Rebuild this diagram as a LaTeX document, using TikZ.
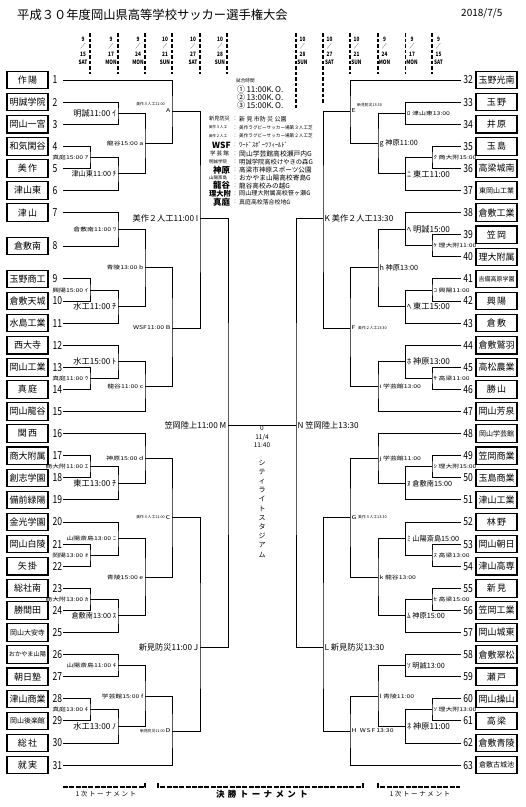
\documentclass[tikz,border=0pt]{standalone}
\usepackage{fontspec}
\setmainfont{Noto Sans CJK JP}
\newfontfamily\cnd[FakeStretch=0.78]{Noto Sans CJK JP}
\newfontfamily\wid[FakeStretch=1.3]{Noto Sans CJK JP}
\newfontfamily\spc[LetterSpace=25]{Noto Sans CJK JP}
\newfontfamily\spcb[LetterSpace=40]{Noto Sans CJK JP}
\begin{document}
\begin{tikzpicture}[x=1pt,y=-1pt,
  br/.style={line width=1pt},
  tbox/.style={draw,line width=1.1pt,minimum width=41pt,minimum height=17.5pt,inner sep=0pt},
  numl/.style={anchor=west,inner sep=0pt,font=\cnd\fontsize{11}{11}\selectfont},
  numr/.style={anchor=east,inner sep=0pt,font=\cnd\fontsize{11}{11}\selectfont},
  lb/.style={inner sep=0pt,font=\fontsize{8.2}{8.2}\selectfont},
  lm/.style={inner sep=0pt,font=\fontsize{7.2}{7.2}\selectfont},
  ls/.style={inner sep=0pt,font=\wid\fontsize{5.3}{5.3}\selectfont},
  lt/.style={inner sep=0pt,font=\fontsize{3.8}{3.8}\selectfont},
  datel/.style={inner sep=0pt,align=center,font=\cnd\bfseries\fontsize{6}{7.7}\selectfont},
  dline/.style={line width=1.6pt,dash pattern=on 3.5pt off 2pt},
  bline/.style={line width=1.5pt,dash pattern=on 5pt off 1.3pt},
  info/.style={inner sep=0pt,anchor=west},
  vleft/.style={inner sep=0pt},
  ]
\path[use as bounding box,fill=white] (0,0) rectangle (526,807);

% title
\node[inner sep=0pt,anchor=west,font=\fontsize{12.3}{12.3}\selectfont] (title) at (17,14.5) {平成３０年度岡山県高等学校サッカー選手権大会};
\node[inner sep=0pt,anchor=west,font=\fontsize{10}{10}\selectfont] (date) at (461,13) {2018/7/5};

% date columns
\foreach \x/\m/\d/\w/\e [count=\k] in {90/9/15/SAT/74,118/9/17/MON/74,145/9/24/MON/74,172/10/21/SUN/74,200/10/27/SAT/74,227/10/28/SUN/74}{
  \draw[dline] (\x,33) -- (\x,\e);
  \node[datel] (dl\k) at (\x-7,50.5) {\m\\／\\\d\\\w};
}
\foreach \x/\m/\d/\w/\e [count=\k] in {296/10/28/SUN/108,323/10/27/SAT/103,350/10/21/SUN/74,378/9/24/MON/74,405.5/9/17/MON/74,432/9/15/SAT/74}{
  \draw[dline] (\x,33) -- (\x,\e);
  \node[datel] (dr\k) at (\x+6.5,50.5) {\m\\／\\\d\\\w};
}

% left teams
\foreach \i/\nm/\y/\fs in {1/作\thinspace 陽/80/9,2/明誠学院/102.1/9,3/岡山一宮/124.2/9,4/和気閑谷/146.3/9,5/美\thinspace 作/168.4/9,6/津山東/190.5/9,7/津\thinspace 山/212.6/9,8/倉敷南/246/9,9/玉野商工/278.9/9,10/倉敷天城/301/9,11/水島工業/323.1/9,12/西大寺/345.2/9,13/岡山工業/367.3/9,14/真\thinspace 庭/389.4/9,15/岡山龍谷/411.5/9,16/関\thinspace 西/433.6/9,17/商大附属/455.7/9,18/創志学園/477.8/9,19/備前緑陽/499.9/9,20/金光学園/522/9,21/岡山白陵/544.1/9,22/矢\thinspace 掛/566.2/9,23/総社南/588.3/9,24/勝間田/610.4/9,25/岡山大安寺/632.5/7,26/おかやま山陽/654.6/6.2,27/朝日塾/676.7/9,28/津山商業/698.8/9,29/岡山後楽館/720.9/7,30/総\thinspace 社/743/9,31/就\thinspace 実/765.1/9}{
  \node[tbox,font=\fontsize{\fs}{\fs}\selectfont] (tb\i) at (27.5,\y) {\nm};
  \node[numl] (nb\i) at (52.5,\y) {\i};
  \coordinate (s\i) at (63,\y);
}
% right teams
\foreach \i/\nm/\y/\fs in {32/玉野光南/80/9,33/玉\thinspace 野/102.1/9,34/井\thinspace 原/124.2/9,35/玉\thinspace 島/146.3/9,36/高梁城南/168.4/9,37/東岡山工業/190.5/7,38/倉敷工業/212.6/9,39/笠\thinspace 岡/234.7/9,40/理大附属/256.8/9,41/吉備高原学園/278.9/6,42/興\thinspace 陽/301/9,43/倉\thinspace 敷/323.1/9,44/倉敷鷲羽/345.2/9,45/高松農業/367.3/9,46/勝\thinspace 山/389.4/9,47/岡山芳泉/411.5/9,48/岡山学芸館/433.6/7,49/笠岡商業/455.7/9,50/玉島商業/477.8/9,51/津山工業/499.9/9,52/林\thinspace 野/522/9,53/岡山朝日/544.1/9,54/津山高専/566.2/9,55/新\thinspace 見/588.3/9,56/笠岡工業/610.4/9,57/岡山城東/632.5/9,58/倉敷翠松/654.6/9,59/瀬\thinspace 戸/676.7/9,60/岡山操山/698.8/9,61/高\thinspace 梁/720.9/9,62/倉敷青陵/743/9,63/倉敷古城池/765.1/7}{
  \node[tbox,font=\fontsize{\fs}{\fs}\selectfont] (tb\i) at (496.5,\y) {\nm};
  \node[numr] (nb\i) at (473,\y) {\i};
  \coordinate (s\i) at (461,\y);
}

% ---------- left bracket ----------
\coordinate (p1) at (90,157.35);  \coordinate (p2) at (90,290);
\coordinate (p3) at (90,378.35);  \coordinate (p4) at (90,466.75);
\coordinate (p5) at (90,555.15);  \coordinate (p6) at (90,599.35);
\coordinate (p7) at (90,709.85);
\coordinate (q1) at (118,113.15); \coordinate (q2) at (118,173.9);
\coordinate (q3) at (118,229.3);  \coordinate (q4) at (118,306.55);
\coordinate (q5) at (118,361.8);  \coordinate (q6) at (118,483.3);
\coordinate (q7) at (118,538.6);  \coordinate (q8) at (118,615.9);
\coordinate (q9) at (118,665.65); \coordinate (q10) at (118,726.4);
\coordinate (ma) at (145,143.5);  \coordinate (mb) at (145,267.9);
\coordinate (mc) at (145,386.65); \coordinate (md) at (145,458.45);
\coordinate (me) at (145,577.25); \coordinate (mf) at (145,696);
\coordinate (mA) at (172,111);    \coordinate (mB) at (172,328);
\coordinate (mC) at (172,517.5);  \coordinate (mD) at (172,731);
\coordinate (mI) at (200,218);    \coordinate (mJ) at (200,647);
\coordinate (mM) at (228,425);

\draw[br] (s4) -| (p1) |- (s5);
\draw[br] (s9) -| (p2) |- (s10);
\draw[br] (s13) -| (p3) |- (s14);
\draw[br] (s17) -| (p4) |- (s18);
\draw[br] (s21) -| (p5) |- (s22);
\draw[br] (s23) -| (p6) |- (s24);
\draw[br] (s28) -| (p7) |- (s29);
\draw[br] (s2) -| (q1) |- (s3);
\draw[br] (p1) -| (q2) |- (s6);
\draw[br] (s7) -| (q3) |- (s8);
\draw[br] (p2) -| (q4) |- (s11);
\draw[br] (s12) -| (q5) |- (p3);
\draw[br] (p4) -| (q6) |- (s19);
\draw[br] (s20) -| (q7) |- (p5);
\draw[br] (p6) -| (q8) |- (s25);
\draw[br] (s26) -| (q9) |- (s27);
\draw[br] (p7) -| (q10) |- (s30);
\draw[br] (q1) -| (ma) |- (q2);
\draw[br] (q3) -| (mb) |- (q4);
\draw[br] (q5) -| (mc) |- (s15);
\draw[br] (s16) -| (md) |- (q6);
\draw[br] (q7) -| (me) |- (q8);
\draw[br] (q9) -| (mf) |- (q10);
\draw[br] (s1) -| (mA) |- (ma);
\draw[br] (mb) -| (mB) |- (mc);
\draw[br] (md) -| (mC) |- (me);
\draw[br] (mf) -| (mD) |- (s31);
\draw[br] (mA) -| (mI) |- (mB);
\draw[br] (mC) -| (mJ) |- (mD);
\draw[br] (mI) -| (mM) |- (mJ);

% ---------- right bracket ----------
\coordinate (P1) at (432,157.35); \coordinate (P2) at (432,245.75);
\coordinate (P3) at (432,290);    \coordinate (P4) at (432,378.35);
\coordinate (P5) at (432,466.75); \coordinate (P6) at (432,555.15);
\coordinate (P7) at (432,599.35); \coordinate (P8) at (432,709.85);
\coordinate (Q1) at (405.5,113.15); \coordinate (Q2) at (405.5,173.9);
\coordinate (Q3) at (405.5,229.2);  \coordinate (Q4) at (405.5,306.55);
\coordinate (Q5) at (405.5,361.8);  \coordinate (Q6) at (405.5,483.3);
\coordinate (Q7) at (405.5,538.6);  \coordinate (Q8) at (405.5,615.9);
\coordinate (Q9) at (405.5,665.65); \coordinate (Q10) at (405.5,726.4);
\coordinate (mg) at (378,143.5);  \coordinate (mh) at (378,267.9);
\coordinate (mi) at (378,386.65); \coordinate (mj) at (378,458.45);
\coordinate (mk) at (378,577.25); \coordinate (ml) at (378,696);
\coordinate (mE) at (350,111);    \coordinate (mF) at (350,328);
\coordinate (mG) at (350,517.5);  \coordinate (mH) at (350,731);
\coordinate (mK) at (323,218);    \coordinate (mL) at (323,647);
\coordinate (mN) at (296,425);

\draw[br] (s35) -| (P1) |- (s36);
\draw[br] (s39) -| (P2) |- (s40);
\draw[br] (s41) -| (P3) |- (s42);
\draw[br] (s45) -| (P4) |- (s46);
\draw[br] (s49) -| (P5) |- (s50);
\draw[br] (s53) -| (P6) |- (s54);
\draw[br] (s55) -| (P7) |- (s56);
\draw[br] (s60) -| (P8) |- (s61);
\draw[br] (s33) -| (Q1) |- (s34);
\draw[br] (P1) -| (Q2) |- (s37);
\draw[br] (s38) -| (Q3) |- (P2);
\draw[br] (P3) -| (Q4) |- (s43);
\draw[br] (s44) -| (Q5) |- (P4);
\draw[br] (P5) -| (Q6) |- (s51);
\draw[br] (s52) -| (Q7) |- (P6);
\draw[br] (P7) -| (Q8) |- (s57);
\draw[br] (s58) -| (Q9) |- (s59);
\draw[br] (P8) -| (Q10) |- (s62);
\draw[br] (Q1) -| (mg) |- (Q2);
\draw[br] (Q3) -| (mh) |- (Q4);
\draw[br] (Q5) -| (mi) |- (s47);
\draw[br] (s48) -| (mj) |- (Q6);
\draw[br] (Q7) -| (mk) |- (Q8);
\draw[br] (Q9) -| (ml) |- (Q10);
\draw[br] (s32) -| (mE) |- (mg);
\draw[br] (mh) -| (mF) |- (mi);
\draw[br] (mj) -| (mG) |- (mk);
\draw[br] (ml) -| (mH) |- (s63);
\draw[br] (mE) -| (mK) |- (mF);
\draw[br] (mG) -| (mL) |- (mH);
\draw[br] (mK) -| (mN) |- (mL);

% final
\draw[br] (mM) -- (mN);

% ---------- left labels ----------
\node[ls,anchor=east] (tp1) at ([xshift=-1.5pt]p1) {真庭15:00 ｱ};
\node[ls,anchor=east] (tp2) at ([xshift=-1.5pt]p2) {興陽15:00 ｲ};
\node[ls,anchor=east] (tp3) at ([xshift=-1.5pt]p3) {真庭11:00 ｳ};
\node[ls,anchor=east] (tp4) at ([xshift=-1.5pt]p4) {商大附11:00 ｴ};
\node[ls,anchor=east] (tp5) at ([xshift=-1.5pt]p5) {岡陽13:00 ｵ};
\node[ls,anchor=east] (tp6) at ([xshift=-1.5pt]p6) {商大附13:00 ｶ};
\node[ls,anchor=east] (tp7) at ([xshift=-1.5pt]p7) {真庭13:00 ｷ};
\node[lb,anchor=east] (tq1) at ([xshift=-1.5pt]q1) {明誠11:00 ｲ};
\node[lm,anchor=east] (tq2) at ([xshift=-1.5pt]q2) {津山東11:00 ﾁ};
\node[ls,anchor=east] (tq3) at ([xshift=-1.5pt]q3) {倉敷南11:00 ﾜ};
\node[lb,anchor=east] (tq4) at ([xshift=-1.5pt]q4) {水工11:00 ﾁ};
\node[lb,anchor=east] (tq5) at ([xshift=-1.5pt]q5) {水工15:00 ﾄ};
\node[lb,anchor=east] (tq6) at ([xshift=-1.5pt]q6) {東工13:00 ﾁ};
\node[ls,anchor=east] (tq7) at ([xshift=-1.5pt]q7) {山陽斎島13:00 ﾆ};
\node[lm,anchor=east] (tq8) at ([xshift=-1.5pt]q8) {倉敷南13:00 ｽ};
\node[ls,anchor=east] (tq9) at ([xshift=-1.5pt]q9) {山陽斎島11:00 ｷ};
\node[lb,anchor=east] (tq10) at ([xshift=-1.5pt]q10) {水工13:00 ﾉ};
\node[ls,anchor=east] (tma) at ([xshift=-1.5pt]ma) {龍谷15:00 a};
\node[ls,anchor=east] (tmb) at ([xshift=-1.5pt]mb) {青陵13:00 b};
\node[ls,anchor=east] (tmc) at ([xshift=-1.5pt]mc) {龍谷11:00 c};
\node[ls,anchor=east] (tmd) at ([xshift=-1.5pt]md) {神原15:00 d};
\node[ls,anchor=east] (tme) at ([xshift=-1.5pt]me) {青陵15:00 e};
\node[ls,anchor=east] (tmf) at ([xshift=-1.5pt]mf) {学芸館15:00 f};
\node[ls,anchor=east] (tmA) at ([xshift=-1.5pt]mA) {A};
\node[lt,anchor=east] (tmA2) at (165,104) {美作３人工11:00};
\node[ls,anchor=east] (tmB) at ([xshift=-1.5pt]mB) {WSF11:00 B};
\node[ls,anchor=east] (tmC) at ([xshift=-1.5pt]mC) {C};
\node[lt,anchor=east] (tmC2) at (165,517.5) {美作３人工11:00};
\node[ls,anchor=east] (tmD) at ([xshift=-1.5pt]mD) {D};
\node[lt,anchor=east] (tmD2) at (165,731) {新見防災11:00};
\node[lb,anchor=east] (tmI) at ([xshift=-1.5pt]mI) {美作２人工11:00 I};
\node[lb,anchor=east] (tmJ) at ([xshift=-1.5pt]mJ) {新見防災11:00 J};
\node[lb,anchor=east] (tmM) at ([xshift=-1.5pt]mM) {笠岡陸上11:00 M};

% ---------- right labels ----------
\node[ls,anchor=west] (tP1) at ([xshift=1.5pt]P1) {ｸ 商大附15:00};
\node[ls,anchor=west] (tP2) at ([xshift=1.5pt]P2) {ｹ 理大附11:00};
\node[ls,anchor=west] (tP3) at ([xshift=1.5pt]P3) {ｺ 興陽11:00};
\node[ls,anchor=west] (tP4) at ([xshift=1.5pt]P4) {ｻ 高梁11:00};
\node[ls,anchor=west] (tP5) at ([xshift=1.5pt]P5) {ｼ 理大附15:00};
\node[ls,anchor=west] (tP6) at ([xshift=1.5pt]P6) {ｽ 高梁13:00};
\node[ls,anchor=west] (tP7) at ([xshift=1.5pt]P7) {ｾ 高梁15:00};
\node[ls,anchor=west] (tP8) at ([xshift=1.5pt]P8) {ｿ 理大附13:00};
\node[ls,anchor=west] (tQ1) at ([xshift=1.5pt]Q1) {ﾛ 津山東13:00};
\node[lb,anchor=west] (tQ2) at ([xshift=1.5pt]Q2) {ﾆ 東工11:00};
\node[lb,anchor=west] (tQ3) at ([xshift=1.5pt]Q3) {ﾍ 明誠15:00};
\node[lb,anchor=west] (tQ4) at ([xshift=1.5pt]Q4) {ﾍ 東工15:00};
\node[lb,anchor=west] (tQ5) at ([xshift=1.5pt]Q5) {ﾎ 神原13:00};
\node[lm,anchor=west] (tQ6) at ([xshift=1.5pt]Q6) {ﾇ 倉敷南15:00};
\node[lm,anchor=west] (tQ7) at ([xshift=1.5pt]Q7) {ﾐ 山陽斎島15:00};
\node[lm,anchor=west] (tQ8) at ([xshift=1.5pt]Q8) {ﾑ 神原15:00};
\node[lm,anchor=west] (tQ9) at ([xshift=1.5pt]Q9) {ｿ 明誠13:00};
\node[lb,anchor=west] (tQ10) at ([xshift=1.5pt]Q10) {ﾈ 神原11:00};
\node[lm,anchor=west] (tmg) at ([xshift=1.5pt]mg) {g 神原11:00};
\node[lm,anchor=west] (tmh) at ([xshift=1.5pt]mh) {h 神原13:00};
\node[ls,anchor=west] (tmi) at ([xshift=1.5pt]mi) {i 学芸館13:00};
\node[ls,anchor=west] (tmj) at ([xshift=1.5pt]mj) {j 学芸館11:00};
\node[ls,anchor=west] (tmk) at ([xshift=1.5pt]mk) {k 龍谷13:00};
\node[ls,anchor=west] (tml) at ([xshift=1.5pt]ml) {l 青陵11:00};
\node[ls,anchor=west] (tmE) at ([xshift=1.5pt]mE) {E};
\node[lt,anchor=west] (tmE2) at (357,105) {新見防災13:30};
\node[ls,anchor=west] (tmF) at ([xshift=1.5pt]mF) {F};
\node[lt,anchor=west] (tmF2) at (358,328) {美作２人工13:30};
\node[ls,anchor=west] (tmG) at ([xshift=1.5pt]mG) {G};
\node[lt,anchor=west] (tmG2) at (358,517.5) {美作３人工13:30};
\node[ls,anchor=west] (tmH) at ([xshift=1.5pt]mH) {H\ \ W\,S\,F\,13:30};
\node[lb,anchor=west] (tmK) at ([xshift=1.5pt]mK) {K 美作２人工13:30};
\node[lb,anchor=west] (tmL) at ([xshift=1.5pt]mL) {L 新見防災13:30};
\node[lb,anchor=west] (tmN) at ([xshift=1.5pt]mN) {N 笠岡陸上13:30};

% final info
\node[inner sep=0pt,align=center,font=\fontsize{6.5}{8.5}\selectfont] (fin) at (262,437) {0\\11/4\\11:40};
\node[inner sep=0pt,align=center,font=\fontsize{7}{9.2}\selectfont] (stad) at (262,508.5) {シ\\テ\\ィ\\ラ\\イ\\ト\\ス\\タ\\ジ\\ア\\ム};

% info block
\node[info,font=\fontsize{4.6}{4.6}\selectfont] (st) at (236,81) {試合時間};
\node[info,font=\fontsize{8}{8}\selectfont] (t1) at (237,89.5) {①\,11:00K.\,O.};
\node[info,font=\fontsize{8}{8}\selectfont] (t2) at (237,97.5) {②\,13:00K.\,O.};
\node[info,font=\fontsize{8}{8}\selectfont] (t3) at (237,105.5) {③\,15:00K.\,O.};

\node[vleft,font=\fontsize{5.2}{5.2}\selectfont] (v1l) at (219.5,119) {新見防災};
\node[vleft,font=\fontsize{3.7}{3.7}\selectfont] (v2l) at (218,127.5) {美作３人工};
\node[vleft,font=\fontsize{3.7}{3.7}\selectfont] (v3l) at (218,136) {美作２人工};
\node[vleft,font=\bfseries\fontsize{8.5}{8.5}\selectfont] (v4l) at (221.5,145) {WSF};
\node[vleft,font=\fontsize{5.5}{5.5}\selectfont] (v5l) at (219.5,153.5) {学 芸 館};
\node[vleft,font=\fontsize{4.5}{4.5}\selectfont] (v6l) at (218,162) {明誠学院};
\node[vleft,font=\bfseries\fontsize{8.5}{8.5}\selectfont] (v7l) at (221.5,170) {神原};
\node[vleft,font=\fontsize{4.5}{4.5}\selectfont] (v8l) at (218,178) {山陽斎島};
\node[vleft,font=\bfseries\fontsize{8.5}{8.5}\selectfont] (v9l) at (221.5,185.5) {龍谷};
\node[vleft,font=\bfseries\fontsize{7.3}{7.3}\selectfont] (v10l) at (220,193.5) {理大附};
\node[vleft,font=\bfseries\fontsize{8.5}{8.5}\selectfont] (v11l) at (221.5,202) {真庭};
\foreach \y [count=\k] in {119,127.5,136,145,153.5,162,170,178,185.5,193.5,202}{
  \node[vleft,font=\fontsize{5}{5}\selectfont] (vc\k) at (235,\y) {：};
}
\node[info,font=\fontsize{6}{6}\selectfont] (v1r) at (239,119) {新 見 市防 災 公園};
\node[info,font=\fontsize{4.6}{4.6}\selectfont] (v2r) at (239,127.5) {美作ラグビーサッカー場第３人工芝};
\node[info,font=\fontsize{4.6}{4.6}\selectfont] (v3r) at (239,136) {美作ラグビーサッカー場第２人工芝};
\node[info,font=\fontsize{6.5}{6.5}\selectfont] (v4r) at (239,145) {ﾜｰﾄﾞｽﾎﾟｰﾂﾌｨｰﾙﾄﾞ};
\node[info,font=\fontsize{6.8}{6.8}\selectfont] (v5r) at (239,153.5) {岡山学芸館高校瀬戸内G};
\node[info,font=\fontsize{6.3}{6.3}\selectfont] (v6r) at (239,162) {明誠学院高校けやきの森G};
\node[info,font=\fontsize{6.6}{6.6}\selectfont] (v7r) at (239,170) {高梁市神原スポーツ公園};
\node[info,font=\fontsize{6.7}{6.7}\selectfont] (v8r) at (239,178) {おかやま山陽高校寄島G};
\node[info,font=\fontsize{6.6}{6.6}\selectfont] (v9r) at (239,185.5) {龍谷高校みの越G};
\node[info,font=\fontsize{6.1}{6.1}\selectfont] (v10r) at (239,193.5) {岡山理大附属高校笹ヶ瀬G};
\node[info,font=\fontsize{5.9}{5.9}\selectfont] (v11r) at (239,202) {真庭高校落合校地G};

% bottom
\draw[bline] (63,787) -- (145,787) -- (145,783);
\draw[bline] (158,783) -- (158,787) -- (363,787) -- (363,783);
\draw[bline] (378,783) -- (378,787) -- (460,787);
\node[inner sep=0pt,font=\spc\fontsize{6.5}{6.5}\selectfont] (b1) at (106,794) {1次トーナメント};
\node[inner sep=0pt,font=\spcb\bfseries\fontsize{8.5}{8.5}\selectfont] (b2) at (262,794) {決勝トーナメント};
\node[inner sep=0pt,font=\spc\fontsize{6.5}{6.5}\selectfont] (b3) at (420,794) {1次トーナメント};
\end{tikzpicture}
\end{document}
